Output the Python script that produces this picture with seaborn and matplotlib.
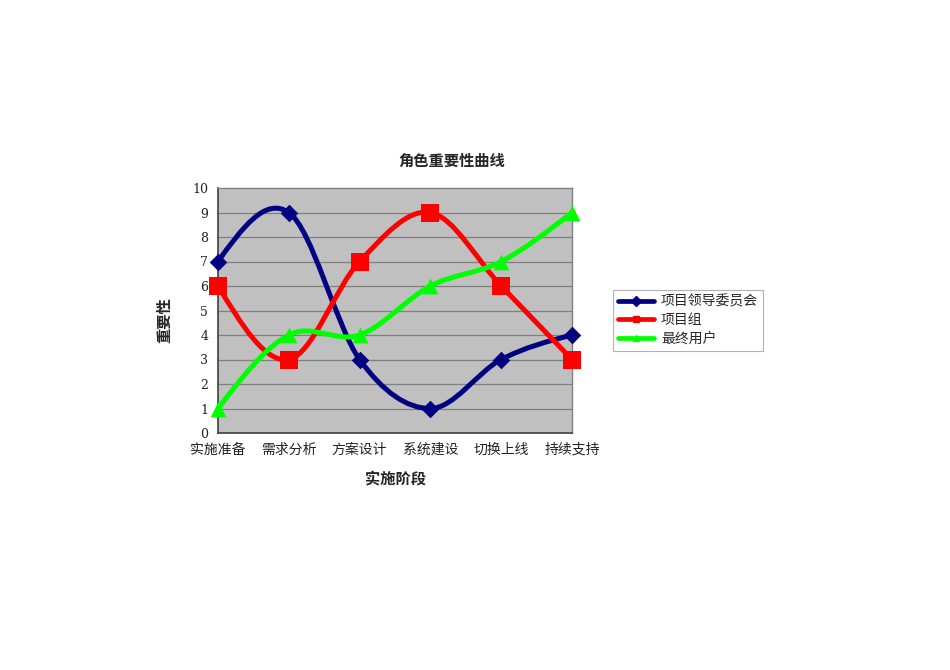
import matplotlib
matplotlib.use("Agg")
import matplotlib.pyplot as plt
from matplotlib.path import Path
from matplotlib.patches import PathPatch
from matplotlib.lines import Line2D
import seaborn as sns
import pandas as pd

# === DATA ===
stages = ["实施准备", "需求分析", "方案设计", "系统建设", "切换上线", "持续支持"]
committee = [7, 9, 3, 1, 3, 4]
team = [6, 3, 7, 9, 6, 3]
users = [1, 4, 4, 6, 7, 9]
series_names = ["项目领导委员会", "项目组", "最终用户"]
y_ticks = list(range(0, 11))

# === STYLE ===
colors = ["#000080", "#FF0000", "#00FF00"]
markers = ["D", "s", "^"]
marker_sizes = [80, 150, 130]

sns.set_style("white")
plt.rcParams["font.family"] = ["Noto Sans CJK SC", "DejaVu Sans"]

fig = plt.figure(figsize=(9.5, 6.7), dpi=100)
ax = fig.add_axes([218 / 950, 1 - 433 / 670, (572 - 218) / 950, (433 - 188) / 670])
ax.set_facecolor("#C0C0C0")


def smooth_path(xs, ys):
    # smoothed line like the office chart: cubic Bezier through the points
    pts = list(zip(xs, ys))
    n = len(pts)
    verts = [pts[0]]
    codes = [Path.MOVETO]
    for i in range(n - 1):
        p1 = pts[i]
        p2 = pts[i + 1]
        c1 = c2 = None
        if i > 0:
            p0 = pts[i - 1]
            c1 = (p1[0] + (p2[0] - p0[0]) / 6, p1[1] + (p2[1] - p0[1]) / 6)
        if i + 2 < n:
            p3 = pts[i + 2]
            c2 = (p2[0] - (p3[0] - p1[0]) / 6, p2[1] - (p3[1] - p1[1]) / 6)
        # end segments: free end control point halfway to the other one
        if c1 is None:
            c1 = ((p1[0] + c2[0]) / 2, (p1[1] + c2[1]) / 2)
        if c2 is None:
            c2 = ((p2[0] + c1[0]) / 2, (p2[1] + c1[1]) / 2)
        verts += [c1, c2, p2]
        codes += [Path.CURVE4] * 3
    return Path(verts, codes)


x_pos = list(range(len(stages)))
rows = []
for name, vals in zip(series_names, [committee, team, users]):
    for x, v in zip(x_pos, vals):
        rows.append({"stage": x, "value": v, "series": name})
df = pd.DataFrame(rows)

# grid
for t in y_ticks[1:-1]:
    ax.axhline(t, color="#808080", lw=0.9, zorder=1)

for name, vals, c in zip(series_names, [committee, team, users], colors):
    patch = PathPatch(smooth_path(x_pos, vals), facecolor="none", edgecolor=c,
                      lw=3.6, capstyle="round", joinstyle="round", zorder=3)
    ax.add_patch(patch)

for name, c, m, s in zip(series_names, colors, markers, marker_sizes):
    sub = df[df["series"] == name]
    sns.scatterplot(data=sub, x="stage", y="value", ax=ax, color=c, marker=m,
                    s=s, edgecolor=c, linewidth=0, zorder=4, clip_on=False,
                    legend=False)

ax.set_xlim(0, len(stages) - 1)
ax.set_ylim(0, 10)
ax.set_xticks(x_pos)
ax.set_xticklabels(stages, fontsize=10, color="#222222")
ax.set_yticks(y_ticks)
ax.set_yticklabels([str(t) for t in y_ticks], fontsize=9,
                   family=["DejaVu Serif"], color="#222222")
ax.tick_params(axis="x", direction="out", length=5, color="#808080", pad=2)
ax.tick_params(axis="y", direction="out", length=4, color="#808080", pad=3)
ax.set_xlabel("")
ax.set_ylabel("")
for side in ["top", "right"]:
    ax.spines[side].set_color("#808080")
    ax.spines[side].set_linewidth(1)
for side in ["left", "bottom"]:
    ax.spines[side].set_color("#404040")
    ax.spines[side].set_linewidth(1.2)

fig.text(452 / 950, 1 - 161 / 670, "角色重要性曲线", ha="center", va="center",
         fontsize=11, fontweight="bold")
fig.text(395 / 950, 1 - 479 / 670, "实施阶段", ha="center", va="center",
         fontsize=11, fontweight="bold")
fig.text(164 / 950, 1 - 320 / 670, "重要性", ha="center", va="center",
         fontsize=11, fontweight="bold", rotation=90)

handles = [Line2D([0], [0], color=c, lw=3.4, marker=m, markersize=5)
           for c, m in zip(colors, markers)]
leg = fig.legend(handles, series_names, loc="upper left",
                 bbox_to_anchor=(613 / 950, 1 - 290 / 670), fontsize=10,
                 frameon=True, fancybox=False, handlelength=2.6,
                 borderpad=0.35, labelspacing=0.32, handletextpad=0.5,
                 borderaxespad=0)
leg.get_frame().set_edgecolor("#A0A0A0")
leg.get_frame().set_linewidth(0.8)

fig.savefig("out.png", dpi=100, facecolor="white")
